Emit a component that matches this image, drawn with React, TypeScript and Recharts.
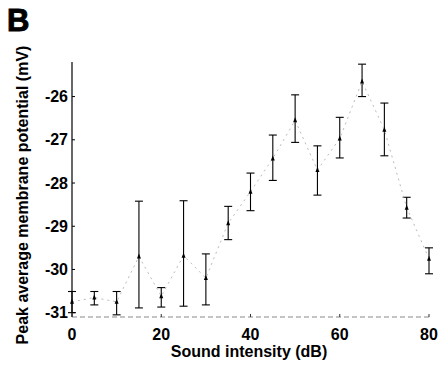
import React from "react";
import { ComposedChart, Line, XAxis, YAxis, ErrorBar } from "recharts";

const intensities = [0, 5, 10, 15, 20, 25, 30, 35, 40, 45, 50, 55, 60, 65, 70, 75, 80];
const means = [-30.75, -30.65, -30.75, -29.7, -30.62, -29.68, -30.2, -28.93, -28.2, -27.43, -26.55, -27.7, -26.97, -25.65, -26.77, -28.57, -29.75];
const lows = [-31.0, -30.82, -31.05, -30.89, -30.87, -30.85, -30.82, -29.31, -28.64, -27.94, -27.06, -28.28, -27.42, -26.0, -27.37, -28.81, -30.1];
const highs = [-30.51, -30.51, -30.51, -28.42, -30.42, -28.41, -29.64, -28.54, -27.77, -26.89, -25.96, -27.14, -26.48, -25.25, -26.15, -28.33, -29.5];
const xTicks = [0, 20, 40, 60, 80];
const yTicks = [-31, -30, -29, -28, -27, -26];

const data = intensities.map((x, i) => ({
  x,
  mean: means[i],
  err: [means[i] - lows[i], highs[i] - means[i]],
}));

const font = "'Liberation Sans', Arial, sans-serif";

const YTick = (props: any) => {
  const { x, y, payload } = props;
  return (
    <g>
      <line x1={x} x2={x + 3} y1={y} y2={y} stroke="#000" strokeWidth={1} />
      <text x={x - 4} y={y} textAnchor="end" dominantBaseline="central" fontFamily={font} fontWeight="bold" fontSize={16} fill="#000">
        {payload.value}
      </text>
    </g>
  );
};

const XTick = (props: any) => {
  const { x, y, payload } = props;
  return (
    <g>
      <line x1={x} x2={x} y1={y} y2={y - 3} stroke="#333" strokeWidth={1} />
      <text x={x} y={y + 17} textAnchor="middle" dominantBaseline="central" fontFamily={font} fontWeight="bold" fontSize={16} fill="#000">
        {payload.value}
      </text>
    </g>
  );
};

const Dot = (props: any) => {
  const { cx, cy } = props;
  if (cx == null || cy == null) return null;
  return <path d={`M${cx},${cy - 3} L${cx + 2},${cy + 2} L${cx - 2},${cy + 2} Z`} fill="#000" />;
};

export default function App() {
  return (
    <div style={{ position: "absolute", left: 0, top: 0, width: 442, height: 367, background: "#fff" }}>
      <ComposedChart width={442} height={367} data={data} margin={{ top: 62, right: 13, bottom: 20, left: 0 }}>
        <XAxis
          dataKey="x"
          type="number"
          domain={[0, 80]}
          ticks={xTicks}
          height={30}
          tickSize={0}
          tickMargin={0}
          tick={<XTick />}
          axisLine={{ stroke: "#888", strokeDasharray: "5 3" }}
          tickLine={false}
          interval={0}
        />
        <YAxis
          type="number"
          domain={[-31.1, -25.2]}
          ticks={yTicks}
          width={72}
          tickSize={0}
          tickMargin={0}
          tick={<YTick />}
          axisLine={{ stroke: "#000", strokeWidth: 1.2 }}
          tickLine={false}
          interval={0}
          allowDataOverflow
        />
        <Line
          dataKey="mean"
          stroke="#bbb"
          strokeWidth={1}
          strokeDasharray="2 4"
          dot={<Dot />}
          isAnimationActive={false}
        >
          <ErrorBar dataKey="err" direction="y" width={4} stroke="#000" strokeWidth={1.1} />
        </Line>
        <text x={7} y={31} fontFamily={font} fontWeight="900" fontSize={31} fill="#000" stroke="#000" strokeWidth={1}>B</text>
        <text
          x={0}
          y={0}
          transform="translate(22,195) rotate(-90)"
          textAnchor="middle"
          dominantBaseline="central"
          fontFamily={font}
          fontWeight="bold"
          fontSize={16}
          fill="#000"
        >
          Peak average membrane potential (mV)
        </text>
        <text x={249} y={351} textAnchor="middle" dominantBaseline="central" fontFamily={font} fontWeight="bold" fontSize={16} fill="#000">
          Sound intensity (dB)
        </text>
      </ComposedChart>
    </div>
  );
}
